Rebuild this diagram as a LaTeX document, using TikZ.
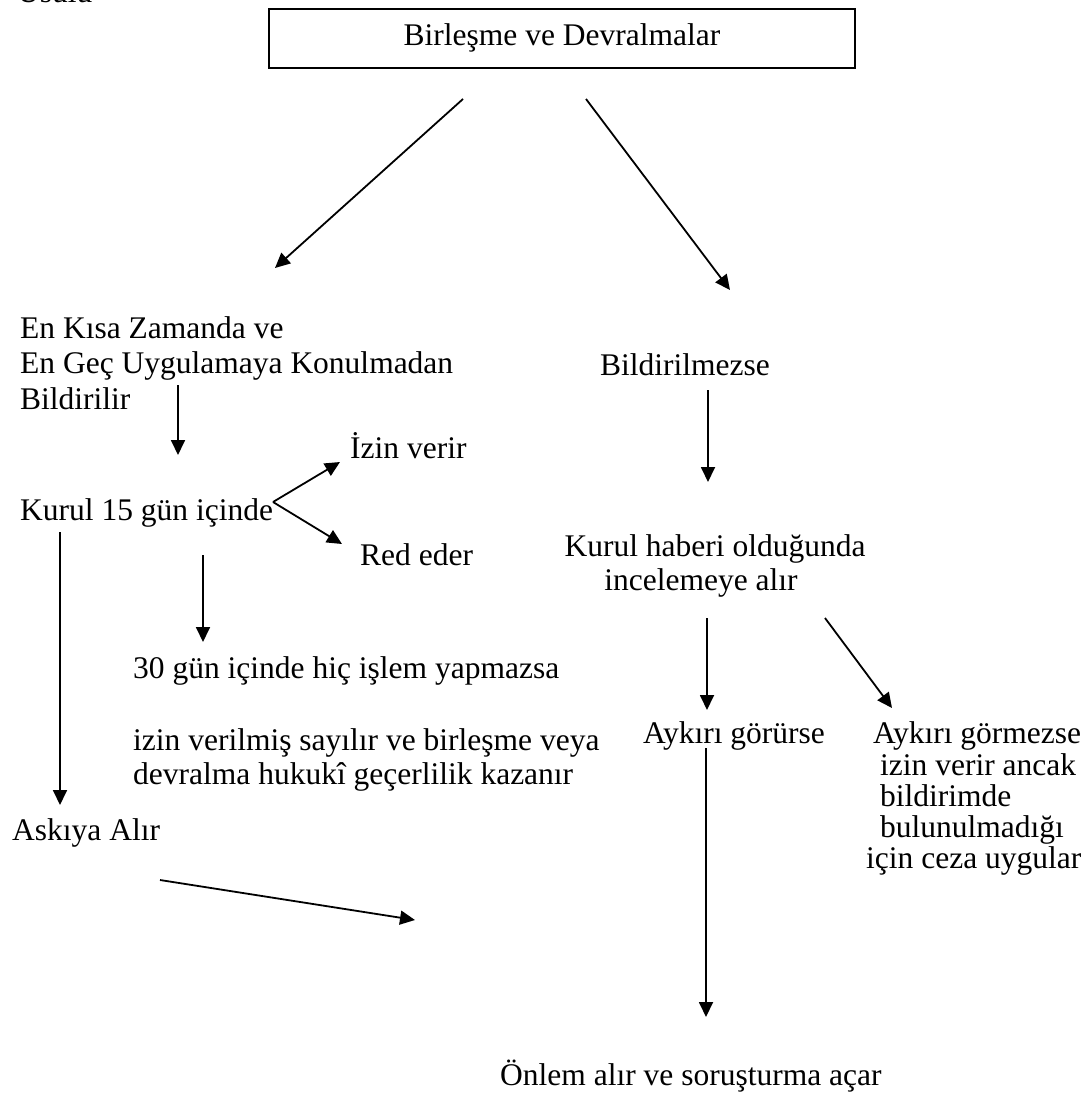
\documentclass[tikz,border=0pt]{standalone}
\usepackage{fontspec}
\setmainfont{Liberation Serif}
\usetikzlibrary{arrows.meta}
\begin{document}
\begin{tikzpicture}[x=1pt,y=-1pt,
  txt/.style={inner sep=0pt, anchor=base west, font=\fontsize{31.5}{35}\selectfont},
  ctxt/.style={inner sep=0pt, anchor=base, font=\fontsize{31.5}{35}\selectfont},
  conn/.style={line width=1.8pt, -{Triangle[length=15pt,width=14pt]}},
  ]
\useasboundingbox (0,0) rectangle (1089,1100);
% cut-off heading
\node[txt] (usul) at (17,2) {Usulü};
% top box
\node[draw, line width=2.6pt, minimum width=586pt, minimum height=59pt, inner sep=0pt] (box) at (562,38.5) {};
\node[ctxt] (boxt) at (562,45) {Birleşme ve Devralmalar};
% left branch texts
\node[txt] (en1) at (20,338) {En Kısa Zamanda ve};
\node[txt] (en2) at (20,373) {En Geç Uygulamaya Konulmadan};
\node[txt] (en3) at (20,409) {Bildirilir};
\node[txt] (kurul) at (20,520) {Kurul 15 gün içinde};
\node[txt] (izin) at (350,458) {İzin verir};
\node[txt] (red) at (360,565) {Red eder};
\node[txt] (g30) at (133,678) {30 gün içinde hiç işlem yapmazsa};
\node[txt] (say1) at (133,750) {izin verilmiş sayılır ve birleşme veya};
\node[txt] (say2) at (133,784) {devralma hukukî geçerlilik kazanır};
\node[txt] (aski) at (12,840) {Askıya Alır};
% right branch texts
\node[txt] (bild) at (600,375) {Bildirilmezse};
\node[ctxt] (hab1) at (715,556) {Kurul haberi olduğunda};
\node[ctxt] (hab2) at (701,590) {incelemeye alır};
\node[txt] (ayk) at (643,743) {Aykırı görürse};
\node[txt] (aym1) at (873,743) {Aykırı görmezse};
\node[txt] (aym2) at (880,775) {izin verir ancak};
\node[txt] (aym3) at (880,806) {bildirimde};
\node[txt] (aym4) at (880,837) {bulunulmadığı};
\node[txt] (aym5) at (866,868) {için ceza uygular};
\node[txt] (onlem) at (500,1085) {Önlem alır ve soruşturma açar};
% connector endpoints
\coordinate (a1s) at (463,99);  \coordinate (a1e) at (275,268);
\coordinate (a2s) at (586,99);  \coordinate (a2e) at (730,290);
\coordinate (a3s) at (178,385); \coordinate (a3e) at (178,455);
\coordinate (fork) at (273,502);
\coordinate (a4e) at (340,462); \coordinate (a5e) at (342,544);
\coordinate (a6s) at (60,532);  \coordinate (a6e) at (60,805);
\coordinate (a7s) at (203,555); \coordinate (a7e) at (203,642);
\coordinate (a8s) at (708,390); \coordinate (a8e) at (708,482);
\coordinate (a9s) at (707,618); \coordinate (a9e) at (707,710);
\coordinate (a10s) at (825,618); \coordinate (a10e) at (892,708);
\coordinate (a11s) at (706,748); \coordinate (a11e) at (706,1017);
\coordinate (a12s) at (160,880); \coordinate (a12e) at (415,920);
% connectors
\draw[conn] (a1s) -- (a1e);
\draw[conn] (a2s) -- (a2e);
\draw[conn] (a3s) -- (a3e);
\draw[conn] (fork) -- (a4e);
\draw[conn] (fork) -- (a5e);
\draw[conn] (a6s) -- (a6e);
\draw[conn] (a7s) -- (a7e);
\draw[conn] (a8s) -- (a8e);
\draw[conn] (a9s) -- (a9e);
\draw[conn] (a10s) -- (a10e);
\draw[conn] (a11s) -- (a11e);
\draw[conn] (a12s) -- (a12e);
\end{tikzpicture}
\end{document}
